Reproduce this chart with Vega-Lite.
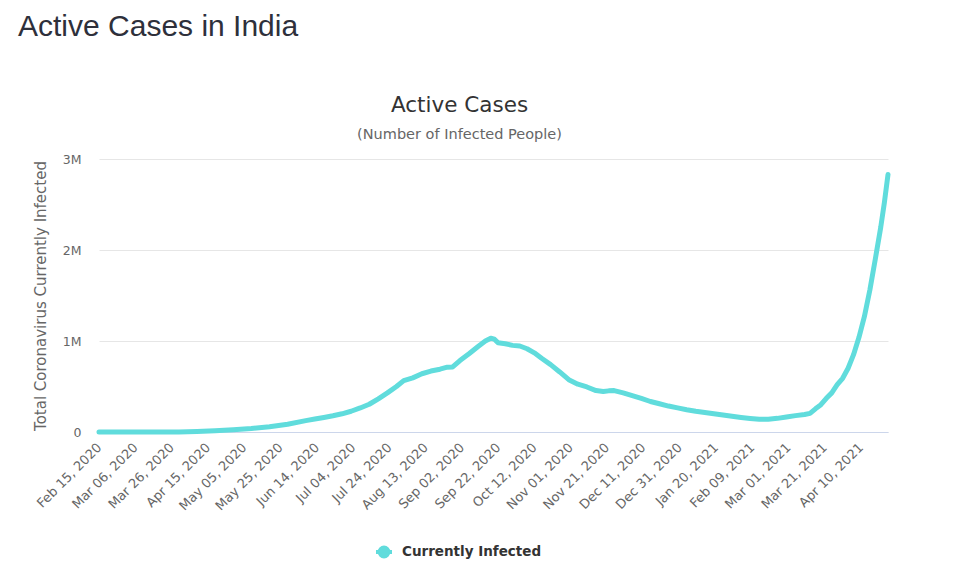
{
  "$schema": "https://vega.github.io/schema/vega-lite/v6.json",
  "padding": {"left": 18, "top": 12, "right": 10, "bottom": 10},
  "background": "white",
  "title": {
    "text": "Active Cases in India",
    "anchor": "start",
    "frame": "group",
    "dx": -81,
    "font": "Liberation Sans",
    "fontSize": 30,
    "fontWeight": "normal",
    "color": "#2e303b",
    "offset": 53
  },
  "config": {
    "view": {"stroke": null},
    "font": "DejaVu Sans"
  },
  "vconcat": [
    {
      "width": 789,
      "height": 273,
      "title": {
        "text": "Active Cases",
        "subtitle": "(Number of Infected People)",
        "anchor": "middle",
        "frame": "group",
        "dx": -34,
        "font": "DejaVu Sans",
        "fontSize": 21.5,
        "fontWeight": "normal",
        "color": "#333333",
        "subtitleFont": "DejaVu Sans",
        "subtitleFontSize": 14.5,
        "subtitleColor": "#666666",
        "subtitlePadding": 11,
        "offset": 12
      },
      "data": {
        "values": [
          {"date": "2020-02-15", "active": 3},
          {"date": "2020-03-01", "active": 3},
          {"date": "2020-03-10", "active": 50},
          {"date": "2020-03-20", "active": 220},
          {"date": "2020-03-30", "active": 1300},
          {"date": "2020-04-09", "active": 5200},
          {"date": "2020-04-19", "active": 13300},
          {"date": "2020-04-29", "active": 23500},
          {"date": "2020-05-09", "active": 38000},
          {"date": "2020-05-19", "active": 58000},
          {"date": "2020-05-29", "active": 86000},
          {"date": "2020-06-08", "active": 125000},
          {"date": "2020-06-13", "active": 142000},
          {"date": "2020-06-18", "active": 160000},
          {"date": "2020-06-23", "active": 178000},
          {"date": "2020-06-28", "active": 200000},
          {"date": "2020-07-03", "active": 228000},
          {"date": "2020-07-08", "active": 264000},
          {"date": "2020-07-13", "active": 305000},
          {"date": "2020-07-18", "active": 365000},
          {"date": "2020-07-23", "active": 430000},
          {"date": "2020-07-28", "active": 500000},
          {"date": "2020-08-01", "active": 565000},
          {"date": "2020-08-06", "active": 595000},
          {"date": "2020-08-11", "active": 640000},
          {"date": "2020-08-16", "active": 670000},
          {"date": "2020-08-21", "active": 690000},
          {"date": "2020-08-25", "active": 712000},
          {"date": "2020-08-28", "active": 715000},
          {"date": "2020-09-01", "active": 785000},
          {"date": "2020-09-06", "active": 860000},
          {"date": "2020-09-11", "active": 940000},
          {"date": "2020-09-15", "active": 1000000},
          {"date": "2020-09-18", "active": 1030000},
          {"date": "2020-09-20", "active": 1020000},
          {"date": "2020-09-22", "active": 980000},
          {"date": "2020-09-26", "active": 970000},
          {"date": "2020-09-30", "active": 952000},
          {"date": "2020-10-04", "active": 945000},
          {"date": "2020-10-08", "active": 915000},
          {"date": "2020-10-12", "active": 870000},
          {"date": "2020-10-16", "active": 810000},
          {"date": "2020-10-21", "active": 740000},
          {"date": "2020-10-26", "active": 660000},
          {"date": "2020-10-31", "active": 575000},
          {"date": "2020-11-05", "active": 525000},
          {"date": "2020-11-10", "active": 495000},
          {"date": "2020-11-15", "active": 455000},
          {"date": "2020-11-19", "active": 445000},
          {"date": "2020-11-22", "active": 452000},
          {"date": "2020-11-25", "active": 455000},
          {"date": "2020-11-30", "active": 430000},
          {"date": "2020-12-05", "active": 400000},
          {"date": "2020-12-10", "active": 370000},
          {"date": "2020-12-15", "active": 335000},
          {"date": "2020-12-20", "active": 310000},
          {"date": "2020-12-25", "active": 285000},
          {"date": "2020-12-30", "active": 265000},
          {"date": "2021-01-04", "active": 245000},
          {"date": "2021-01-09", "active": 228000},
          {"date": "2021-01-14", "active": 215000},
          {"date": "2021-01-19", "active": 200000},
          {"date": "2021-01-24", "active": 186000},
          {"date": "2021-01-29", "active": 172000},
          {"date": "2021-02-03", "active": 160000},
          {"date": "2021-02-08", "active": 149000},
          {"date": "2021-02-13", "active": 139000},
          {"date": "2021-02-18", "active": 140000},
          {"date": "2021-02-23", "active": 150000},
          {"date": "2021-02-28", "active": 165000},
          {"date": "2021-03-05", "active": 180000},
          {"date": "2021-03-10", "active": 192000},
          {"date": "2021-03-13", "active": 205000},
          {"date": "2021-03-16", "active": 255000},
          {"date": "2021-03-19", "active": 300000},
          {"date": "2021-03-22", "active": 370000},
          {"date": "2021-03-25", "active": 430000},
          {"date": "2021-03-28", "active": 520000},
          {"date": "2021-03-31", "active": 590000},
          {"date": "2021-04-03", "active": 700000},
          {"date": "2021-04-06", "active": 850000},
          {"date": "2021-04-09", "active": 1040000},
          {"date": "2021-04-12", "active": 1270000},
          {"date": "2021-04-15", "active": 1560000},
          {"date": "2021-04-18", "active": 1900000},
          {"date": "2021-04-21", "active": 2250000},
          {"date": "2021-04-23", "active": 2520000},
          {"date": "2021-04-25", "active": 2830000}
        ]
      },
      "mark": {"type": "line", "strokeWidth": 5, "strokeCap": "round", "strokeJoin": "round"},
      "encoding": {
        "x": {
          "field": "date",
          "type": "temporal",
          "scale": {
            "type": "utc",
            "domain": [
              {"year": 2020, "month": "feb", "date": 15, "utc": true},
              {"year": 2021, "month": "apr", "date": 25, "utc": true}
            ]
          },
          "axis": {
            "title": null,
            "format": "%b %d, %Y",
            "labelAngle": -45,
            "labelAlign": "right",
            "labelBaseline": "middle",
            "labelPadding": 13,
            "labelFontSize": 13,
            "labelColor": "#666666",
            "labelFont": "DejaVu Sans",
            "labelOverlap": false,
            "ticks": false,
            "grid": false,
            "domainColor": "#ccd6eb",
            "domainWidth": 1,
            "values": [
              {"year": 2020, "month": "feb", "date": 15, "utc": true},
              {"year": 2020, "month": "mar", "date": 6, "utc": true},
              {"year": 2020, "month": "mar", "date": 26, "utc": true},
              {"year": 2020, "month": "apr", "date": 15, "utc": true},
              {"year": 2020, "month": "may", "date": 5, "utc": true},
              {"year": 2020, "month": "may", "date": 25, "utc": true},
              {"year": 2020, "month": "jun", "date": 14, "utc": true},
              {"year": 2020, "month": "jul", "date": 4, "utc": true},
              {"year": 2020, "month": "jul", "date": 24, "utc": true},
              {"year": 2020, "month": "aug", "date": 13, "utc": true},
              {"year": 2020, "month": "sep", "date": 2, "utc": true},
              {"year": 2020, "month": "sep", "date": 22, "utc": true},
              {"year": 2020, "month": "oct", "date": 12, "utc": true},
              {"year": 2020, "month": "nov", "date": 1, "utc": true},
              {"year": 2020, "month": "nov", "date": 21, "utc": true},
              {"year": 2020, "month": "dec", "date": 11, "utc": true},
              {"year": 2020, "month": "dec", "date": 31, "utc": true},
              {"year": 2021, "month": "jan", "date": 20, "utc": true},
              {"year": 2021, "month": "feb", "date": 9, "utc": true},
              {"year": 2021, "month": "mar", "date": 1, "utc": true},
              {"year": 2021, "month": "mar", "date": 21, "utc": true},
              {"year": 2021, "month": "apr", "date": 10, "utc": true}
            ]
          }
        },
        "y": {
          "field": "active",
          "type": "quantitative",
          "scale": {"domain": [0, 3000000], "nice": false},
          "axis": {
            "title": "Total Coronavirus Currently Infected",
            "titleFont": "DejaVu Sans",
            "titleFontSize": 15,
            "titleFontWeight": "normal",
            "titleColor": "#666666",
            "titlePadding": 14,
            "values": [0, 1000000, 2000000, 3000000],
            "labelExpr": "datum.value === 0 ? '0' : (datum.value / 1000000) + 'M'",
            "labelFontSize": 12.5,
            "labelColor": "#666666",
            "labelFont": "DejaVu Sans",
            "labelPadding": 18,
            "ticks": false,
            "domain": false,
            "gridColor": "#e6e6e6",
            "gridWidth": 1
          }
        },
        "color": {
          "datum": "Currently Infected",
          "type": "nominal",
          "scale": {"range": ["#60dcdc"]},
          "legend": {
            "title": null,
            "orient": "none",
            "legendX": 275,
            "legendY": 383,
            "padding": 0,
            "labelFont": "DejaVu Sans",
            "labelFontSize": 13.5,
            "labelFontWeight": "bold",
            "labelColor": "#333333",
            "labelOffset": 8,
            "symbolType": "M-1,0L1,0M-0.55,0A0.55,0.55,0,1,0,0.55,0A0.55,0.55,0,1,0,-0.55,0Z",
            "symbolSize": 256,
            "symbolStrokeWidth": 4,
            "symbolFillColor": "#60dcdc",
            "symbolStrokeColor": "#60dcdc"
          }
        }
      }
    }
  ]
}
